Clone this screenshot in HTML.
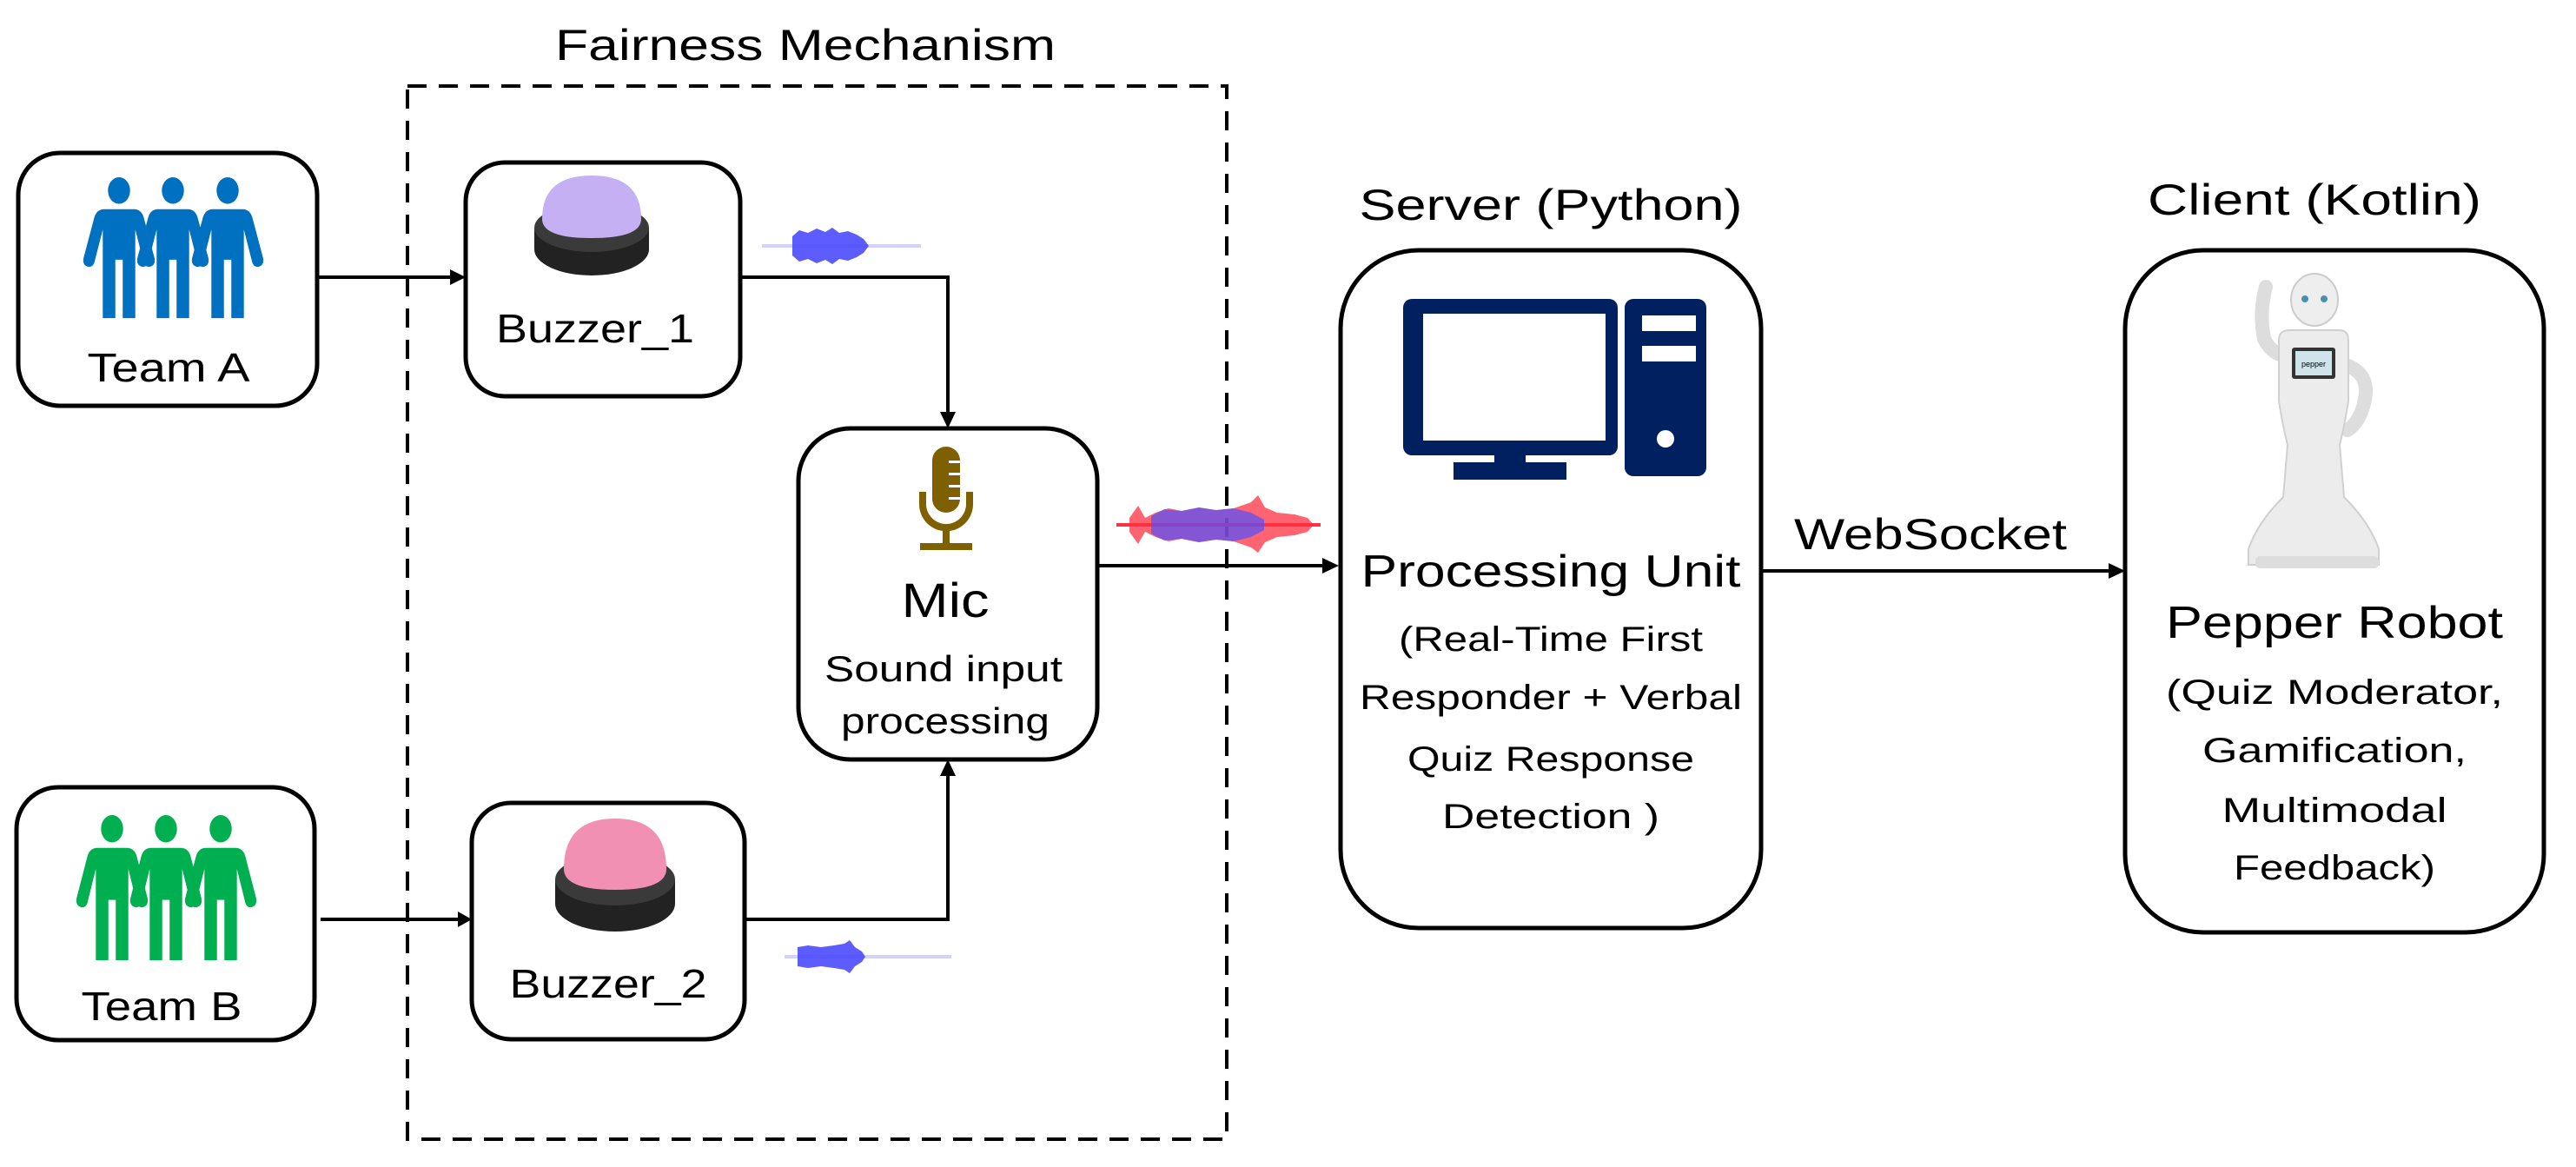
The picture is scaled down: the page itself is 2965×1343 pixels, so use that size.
<!DOCTYPE html>
<html><head><meta charset="utf-8"><style>
html,body{margin:0;padding:0;background:#fff}
svg{display:block}
text{font-family:"Liberation Sans",sans-serif;fill:#000}
</style></head><body>
<svg width="2965" height="1343" viewBox="0 0 2965 1343" xmlns="http://www.w3.org/2000/svg">
<defs>
<g id="person">
<circle cx="0" cy="15" r="15"/>
<path d="M-20 36 h40 q11 0 14 11 l14 44 q2 8 -6 10 q-7 1 -9 -6 l-11 -36 v100 h-17 v-66 h-10 v66 h-17 v-100 l-11 36 q-2 7 -9 6 q-8 -2 -6 -10 l14 -44 q3 -11 14 -11z"/>
</g>
</defs>

<rect x="469" y="99" width="943" height="1212" fill="none" stroke="#000" stroke-width="4" stroke-dasharray="22,14"/>
<text x="927" y="69" font-size="50" text-anchor="middle" textLength="576" lengthAdjust="spacingAndGlyphs">Fairness Mechanism</text>

<g fill="#fff" stroke="#000" stroke-width="5">
<rect x="21" y="176" width="344" height="291" rx="48"/>
<rect x="19" y="906" width="343" height="291" rx="48"/>
<rect x="536" y="187" width="316" height="269" rx="45"/>
<rect x="543" y="924" width="314" height="272" rx="45"/>
<rect x="919" y="493" width="344" height="381" rx="60"/>
<rect x="1543" y="288" width="484" height="780" rx="90"/>
<rect x="2446" y="288" width="482" height="785" rx="90"/>
</g>

<g stroke="#000" stroke-width="4" fill="none">
<line x1="365" y1="319" x2="520" y2="319"/>
<polyline points="852,319 1091,319 1091,474"/>
<line x1="369" y1="1058" x2="530" y2="1058"/>
<polyline points="857,1058 1091,1058 1091,890"/>
<line x1="1263" y1="651" x2="1525" y2="651"/>
<line x1="2027" y1="657" x2="2430" y2="657"/>
</g>
<g fill="#000">
<polygon points="536,319 518,310 518,328"/>
<polygon points="543,1058 527,1049 527,1067"/>
<polygon points="1091,493 1082,474 1100,474"/>
<polygon points="1091,874 1082,893 1100,893"/>
<polygon points="1541,651 1522,642 1522,660"/>
<polygon points="2446,657 2427,648 2427,666"/>
</g>

<g fill="#0070C0">
<use href="#person" transform="translate(137,204) scale(0.85,1.02)"/>
<use href="#person" transform="translate(262,204) scale(0.85,1.02)"/>
<use href="#person" transform="translate(199,204) scale(0.85,1.02)"/>
</g>
<g fill="#00B050">
<use href="#person" transform="translate(129,938) scale(0.85,1.05)"/>
<use href="#person" transform="translate(254,938) scale(0.85,1.05)"/>
<use href="#person" transform="translate(191,938) scale(0.85,1.05)"/>
</g>

<g>
<ellipse cx="681" cy="287" rx="66" ry="30" fill="#222"/>
<rect x="615" y="262" width="132" height="25" fill="#222"/>
<ellipse cx="681" cy="262" rx="66" ry="28" fill="#3a3a3a"/>
<path d="M624 252 q0 -50 57 -50 q57 0 57 50 q0 22 -57 22 q-57 0 -57 -22z" fill="#c4b0f2"/>
</g>
<g>
<ellipse cx="708" cy="1040" rx="69" ry="32" fill="#222"/>
<rect x="639" y="1012" width="138" height="28" fill="#222"/>
<ellipse cx="708" cy="1012" rx="69" ry="30" fill="#3a3a3a"/>
<path d="M649 1000 q0 -58 59 -58 q59 0 59 58 q0 24 -59 24 q-59 0 -59 -24z" fill="#f290b4"/>
</g>

<g fill="#7f6000">
<rect x="1073" y="514" width="32" height="76" rx="16"/>
<path d="M1058 566 h8 v14 a23 23 0 0 0 46 0 v-14 h8 v14 a31 31 0 0 1 -27 31 v14 h26 v8 h-60 v-8 h26 v-14 a31 31 0 0 1 -27 -31z"/>
</g>
<g fill="#fff"><rect x="1092" y="530" width="13" height="3"/><rect x="1092" y="544" width="13" height="3"/><rect x="1092" y="558" width="13" height="3"/><rect x="1092" y="572" width="13" height="3"/></g>

<!-- waveforms -->
<g fill="#4a4aff">
<rect x="877" y="281" width="183" height="4" opacity="0.25"/>
<path d="M912 272 L920 265 L930 268 L940 263 L950 267 L958 262 L966 268 L976 266 L986 270 L994 275 L1000 283 L994 291 L986 296 L976 300 L966 298 L958 304 L950 299 L940 303 L930 298 L920 301 L912 294 Z" opacity="0.9"/>
<rect x="903" y="1099" width="192" height="4" opacity="0.25"/>
<path d="M918 1090 L930 1088 L945 1090 L960 1088 L972 1086 L978 1082 L984 1090 L992 1095 L996 1101 L992 1107 L984 1112 L978 1120 L972 1116 L960 1114 L945 1112 L930 1114 L918 1112 Z" opacity="0.9"/>
</g>
<g>
<rect x="1285" y="602" width="235" height="4" fill="#ff3040"/>
<path d="M1300 596 L1310 582 L1318 596 L1330 590 L1345 585 L1360 588 L1380 584 L1400 587 L1420 585 L1440 578 L1448 570 L1456 584 L1470 590 L1490 592 L1505 596 L1512 604 L1505 612 L1490 616 L1470 618 L1456 624 L1448 636 L1440 630 L1420 623 L1400 621 L1380 624 L1360 620 L1345 623 L1330 618 L1318 612 L1310 626 L1300 612 Z" fill="#ff3040" opacity="0.75"/>
<path d="M1325 594 L1340 586 L1360 588 L1380 584 L1400 587 L1420 585 L1440 590 L1455 598 L1455 610 L1440 618 L1420 623 L1400 621 L1380 624 L1360 620 L1340 622 L1325 614 Z" fill="#5050ff" opacity="0.7"/>
</g>

<g fill="#002060">
<path d="M1625 344 h227 a10 10 0 0 1 10 10 v160 a10 10 0 0 1 -10 10 h-227 a10 10 0 0 1 -10 -10 v-160 a10 10 0 0 1 10 -10z M1638 361 v146 h210 v-146z" fill-rule="evenodd"/>
<rect x="1720" y="524" width="36" height="20"/>
<rect x="1673" y="532" width="130" height="20"/>
<path d="M1880 344 h74 a10 10 0 0 1 10 10 v184 a10 10 0 0 1 -10 10 h-74 a10 10 0 0 1 -10 -10 v-184 a10 10 0 0 1 10 -10z M1890 363 v18 h62 v-18z M1890 398 v18 h62 v-18z" fill-rule="evenodd"/>
<circle cx="1917" cy="505" r="10" fill="#fff"/>
</g>

<g>
<path d="M2608 330 q-8 30 -2 60 q10 20 30 20" fill="none" stroke="#ddd" stroke-width="16" stroke-linecap="round"/>
<path d="M2700 420 q28 10 22 40 q-5 25 -20 35" fill="none" stroke="#ddd" stroke-width="16" stroke-linecap="round"/>
<ellipse cx="2664" cy="345" rx="27" ry="30" fill="#eee" stroke="#ccc" stroke-width="2"/>
<circle cx="2653" cy="344" r="4" fill="#4a8fb0"/><circle cx="2675" cy="344" r="4" fill="#4a8fb0"/>
<path d="M2635 380 h58 q10 0 10 12 v70 q-5 30 -10 50 l5 60 q30 30 40 60 v18 h-150 v-18 q10 -30 40 -60 l5 -60 q-5 -20 -10 -50 v-70 q0 -12 12 -12z" fill="#ececec" stroke="#d0d0d0" stroke-width="2"/>
<rect x="2638" y="400" width="50" height="36" rx="3" fill="#333"/>
<rect x="2642" y="404" width="42" height="28" fill="#cfe3ea"/>
<text x="2663" y="422" font-size="9" text-anchor="middle" fill="#555">pepper</text>
<rect x="2596" y="640" width="142" height="14" rx="5" fill="#ddd"/>
</g>

<g font-size="46">
<text x="194" y="439" text-anchor="middle" textLength="187" lengthAdjust="spacingAndGlyphs">Team A</text>
<text x="186" y="1174" text-anchor="middle" textLength="185" lengthAdjust="spacingAndGlyphs">Team B</text>
<text x="685" y="394" text-anchor="middle" textLength="228" lengthAdjust="spacingAndGlyphs">Buzzer_1</text>
<text x="700" y="1148" text-anchor="middle" textLength="227" lengthAdjust="spacingAndGlyphs">Buzzer_2</text>
<text x="1088" y="710" font-size="56" text-anchor="middle" textLength="101" lengthAdjust="spacingAndGlyphs">Mic</text>
<text x="1086" y="784" font-size="42" text-anchor="middle" textLength="274" lengthAdjust="spacingAndGlyphs">Sound input</text>
<text x="1088" y="844" font-size="42" text-anchor="middle" textLength="240" lengthAdjust="spacingAndGlyphs">processing</text>
<text x="1785" y="253" font-size="50" text-anchor="middle" textLength="441" lengthAdjust="spacingAndGlyphs">Server (Python)</text>
<text x="2664" y="247" font-size="50" text-anchor="middle" textLength="384" lengthAdjust="spacingAndGlyphs">Client (Kotlin)</text>
<text x="2222" y="632" font-size="50" text-anchor="middle" textLength="314" lengthAdjust="spacingAndGlyphs">WebSocket</text>
<text x="1785" y="675" font-size="52" text-anchor="middle" textLength="437" lengthAdjust="spacingAndGlyphs">Processing Unit</text>
<text x="1785" y="749" font-size="40" text-anchor="middle" textLength="350" lengthAdjust="spacingAndGlyphs">(Real-Time First</text>
<text x="1785" y="816" font-size="40" text-anchor="middle" textLength="440" lengthAdjust="spacingAndGlyphs">Responder + Verbal</text>
<text x="1785" y="887" font-size="40" text-anchor="middle" textLength="330" lengthAdjust="spacingAndGlyphs">Quiz Response</text>
<text x="1785" y="953" font-size="40" text-anchor="middle" textLength="250" lengthAdjust="spacingAndGlyphs">Detection )</text>
<text x="2687" y="734" font-size="52" text-anchor="middle" textLength="388" lengthAdjust="spacingAndGlyphs">Pepper Robot</text>
<text x="2687" y="810" font-size="40" text-anchor="middle" textLength="388" lengthAdjust="spacingAndGlyphs">(Quiz Moderator,</text>
<text x="2687" y="877" font-size="40" text-anchor="middle" textLength="304" lengthAdjust="spacingAndGlyphs">Gamification,</text>
<text x="2687" y="946" font-size="40" text-anchor="middle" textLength="259" lengthAdjust="spacingAndGlyphs">Multimodal</text>
<text x="2687" y="1012" font-size="40" text-anchor="middle" textLength="232" lengthAdjust="spacingAndGlyphs">Feedback)</text>
</g>
</svg>
</body></html>
